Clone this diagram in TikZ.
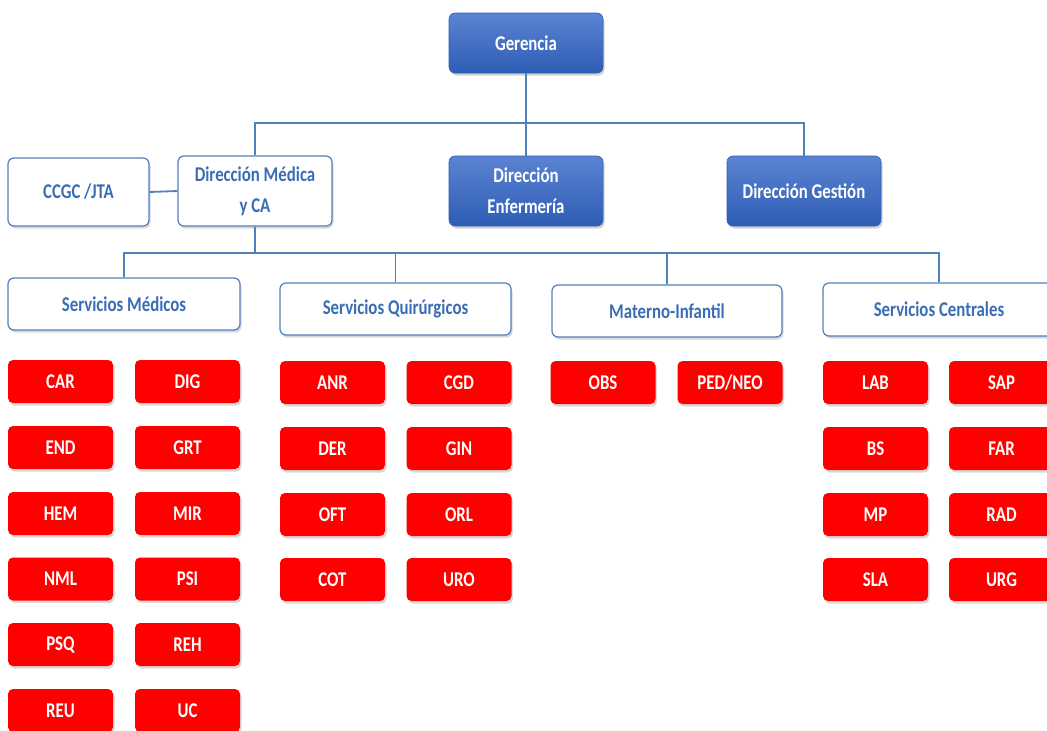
\documentclass[tikz,border=0pt]{standalone}
\usepackage{fontspec}
\setmainfont{Carlito}
\usetikzlibrary{shadows}
\definecolor{blueT}{HTML}{5B83D2}
\definecolor{blueB}{HTML}{2E5DB5}
\definecolor{lineblue}{HTML}{4F81BD}
\definecolor{textblue}{HTML}{3A6DB5}
\definecolor{redbox}{HTML}{FF0000}
\newcommand{\sq}[1]{\scalebox{0.8}[1]{#1}}
\tikzset{
  every node/.style={font=\fontsize{21}{31}\selectfont\bfseries, align=center, inner sep=0pt},
  bluebox/.style={rounded corners=6pt, top color=blueT, bottom color=blueB, draw=blueB, line width=0.6pt, text=white,
    drop shadow={shadow xshift=1.5pt, shadow yshift=-2.5pt, opacity=0.35}},
  whitebox/.style={rounded corners=6pt, fill=white, draw=lineblue, line width=1.2pt, text=textblue,
    drop shadow={shadow xshift=1.5pt, shadow yshift=-2.5pt, opacity=0.3}},
  redb/.style={rounded corners=5pt, fill=redbox, text=white, minimum width=105pt, minimum height=43pt,
    drop shadow={shadow xshift=1.5pt, shadow yshift=-2.5pt, opacity=0.3}},
  conn/.style={draw=lineblue, line width=1.8pt},
}
\begin{document}
\begin{tikzpicture}[x=1pt,y=-1pt]
\useasboundingbox (0,0) rectangle (1047,731);
% top level
\node[bluebox, minimum width=154pt, minimum height=60pt] (ger) at (526,43) {\sq{Gerencia}};
\node[whitebox, minimum width=154pt, minimum height=70pt] (dmed) at (255,191) {\sq{Dirección Médica}\\\sq{y CA}};
\node[whitebox, minimum width=141pt, minimum height=68pt] (ccgc) at (78.5,192) {\sq{CCGC /JTA}};
\node[bluebox, minimum width=154pt, minimum height=70pt] (denf) at (526,191) {\sq{Dirección}\\\sq{Enfermería}};
\node[bluebox, minimum width=154pt, minimum height=70pt] (dges) at (804,191) {\sq{Dirección Gestión}};
% services
\node[whitebox, minimum width=232pt, minimum height=52pt] (sm) at (124,304) {\sq{Servicios Médicos}};
\node[whitebox, minimum width=231pt, minimum height=52pt] (sqx) at (395.5,309) {\sq{Servicios Quirúrgicos}};
\node[whitebox, minimum width=230pt, minimum height=52pt] (mi) at (667,311) {\sq{Materno-Infantil}};
\node[whitebox, minimum width=232pt, minimum height=53pt] (sc) at (939,309.5) {\sq{Servicios Centrales}};
% connectors
\coordinate (busA) at (526,123);
\coordinate (busB) at (255,253);
\draw[conn] (ger.south) -- (denf.north);
\draw[conn] (dmed.north) |- (busA) -| (dges.north);
\draw[conn] (ccgc.east) -- (dmed.west);
\draw[conn] (dmed.south) -- (busB);
\draw[conn] (sm.north) |- (busB) -| (sc.north);
\draw[conn] (sqx.north) |- (busB);
\draw[conn] (mi.north) |- (busB);
% Servicios Medicos
\node[redb] (car) at (60.5,381.5) {\sq{CAR}};
\node[redb] (dig) at (187.5,381.5) {\sq{DIG}};
\node[redb] (end) at (60.5,447.5) {\sq{END}};
\node[redb] (grt) at (187.5,447.5) {\sq{GRT}};
\node[redb] (hem) at (60.5,513.5) {\sq{HEM}};
\node[redb] (mir) at (187.5,513.5) {\sq{MIR}};
\node[redb] (nml) at (60.5,579) {\sq{NML}};
\node[redb] (psi) at (187.5,579) {\sq{PSI}};
\node[redb] (psq) at (60.5,644.5) {\sq{PSQ}};
\node[redb] (reh) at (187.5,644.5) {\sq{REH}};
\node[redb] (reu) at (60.5,710.5) {\sq{REU}};
\node[redb] (uc) at (187.5,710.5) {\sq{UC}};
% Quirurgicos
\node[redb] (anr) at (332.5,382.5) {\sq{ANR}};
\node[redb] (cgd) at (459,382.5) {\sq{CGD}};
\node[redb] (der) at (332.5,448.5) {\sq{DER}};
\node[redb] (gin) at (459,448.5) {\sq{GIN}};
\node[redb] (oft) at (332.5,514.5) {\sq{OFT}};
\node[redb] (orl) at (459,514.5) {\sq{ORL}};
\node[redb] (cot) at (332.5,579.5) {\sq{COT}};
\node[redb] (uro) at (459,579.5) {\sq{URO}};
% Materno
\node[redb] (obs) at (603,382.5) {\sq{OBS}};
\node[redb] (ped) at (730,382.5) {\sq{PED/NEO}};
% Centrales
\node[redb] (lab) at (875.5,382.5) {\sq{LAB}};
\node[redb] (sap) at (1001.5,382.5) {\sq{SAP}};
\node[redb] (bs) at (875.5,448.5) {\sq{BS}};
\node[redb] (far) at (1001.5,448.5) {\sq{FAR}};
\node[redb] (mp) at (875.5,514.5) {\sq{MP}};
\node[redb] (rad) at (1001.5,514.5) {\sq{RAD}};
\node[redb] (sla) at (875.5,579.5) {\sq{SLA}};
\node[redb] (urg) at (1001.5,579.5) {\sq{URG}};
\end{tikzpicture}
\end{document}
